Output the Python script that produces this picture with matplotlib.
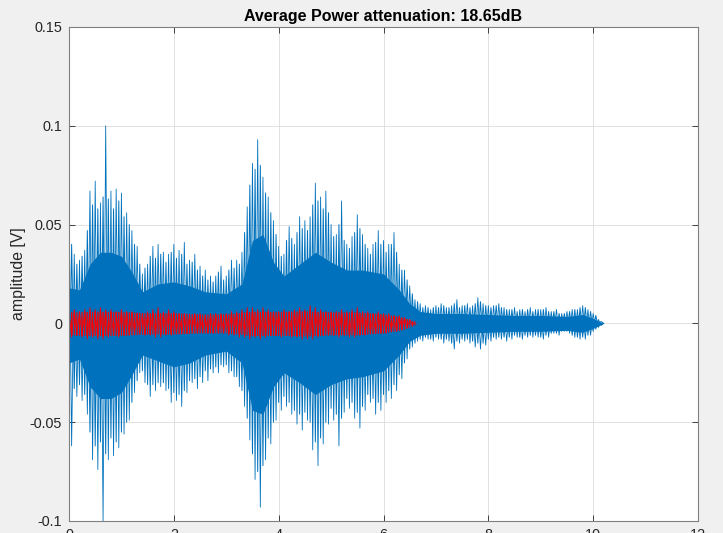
import matplotlib.pyplot as plt
import numpy as np

plt.rcParams.update({
    "font.family": ["Liberation Sans", "DejaVu Sans"],
    "axes.unicode_minus": False,
})

# Full signal, peak values (V).
# tallest upper spikes at t = 0.0, 0.1, ..., 10.2 s
blue_up = [0.062, 0.035, 0.032, 0.037, 0.067, 0.072, 0.061, 0.100, 0.067, 0.068,
           0.066, 0.056, 0.047, 0.039, 0.025, 0.030, 0.039, 0.040, 0.036, 0.035,
           0.040, 0.037, 0.041, 0.032, 0.035, 0.029, 0.027, 0.024, 0.024, 0.029,
           0.024, 0.032, 0.032, 0.036, 0.059, 0.081, 0.093, 0.074, 0.064, 0.052,
           0.039, 0.035, 0.049, 0.040, 0.054, 0.052, 0.054, 0.071, 0.064, 0.067,
           0.050, 0.045, 0.062, 0.040, 0.044, 0.055, 0.045, 0.038, 0.040, 0.047,
           0.042, 0.040, 0.046, 0.030, 0.027, 0.019, 0.012, 0.010, 0.009, 0.007,
           0.009, 0.010, 0.008, 0.009, 0.012, 0.009, 0.010, 0.009, 0.013, 0.010,
           0.009, 0.009, 0.010, 0.008, 0.007, 0.008, 0.007, 0.006, 0.008, 0.007,
           0.007, 0.008, 0.006, 0.007, 0.005, 0.006, 0.007, 0.007, 0.009, 0.007,
           0.005, 0.002, 0.000]
# tallest lower spikes at t = 0.05, 0.15, ..., 10.15 s
blue_lo = [-0.062, -0.037, -0.039, -0.046, -0.069, -0.074, -0.100, -0.069, -0.067, -0.063,
           -0.056, -0.049, -0.035, -0.025, -0.030, -0.037, -0.034, -0.032, -0.034, -0.040,
           -0.039, -0.042, -0.035, -0.030, -0.033, -0.030, -0.029, -0.025, -0.025, -0.022,
           -0.025, -0.027, -0.032, -0.042, -0.059, -0.079, -0.093, -0.069, -0.061, -0.049,
           -0.044, -0.042, -0.046, -0.051, -0.054, -0.049, -0.064, -0.072, -0.061, -0.051,
           -0.049, -0.062, -0.045, -0.043, -0.048, -0.053, -0.044, -0.040, -0.046, -0.044,
           -0.040, -0.038, -0.034, -0.028, -0.018, -0.012, -0.009, -0.009, -0.008, -0.009,
           -0.008, -0.010, -0.009, -0.013, -0.010, -0.009, -0.010, -0.012, -0.013, -0.011,
           -0.009, -0.008, -0.008, -0.009, -0.008, -0.007, -0.008, -0.007, -0.007, -0.007,
           -0.008, -0.007, -0.005, -0.006, -0.004, -0.005, -0.007, -0.008, -0.008, -0.006,
           -0.003, -0.001]
# secondary upper spikes at t = 0.05, 0.15, ..., 10.15 s
blue_up2 = [0.040, 0.030, 0.034, 0.047, 0.060, 0.058, 0.064, 0.063, 0.058, 0.062,
            0.054, 0.050, 0.040, 0.030, 0.028, 0.034, 0.033, 0.035, 0.031, 0.036,
            0.033, 0.035, 0.030, 0.031, 0.027, 0.024, 0.022, 0.021, 0.026, 0.022,
            0.027, 0.028, 0.030, 0.046, 0.070, 0.078, 0.080, 0.066, 0.056, 0.045,
            0.034, 0.042, 0.043, 0.046, 0.048, 0.047, 0.060, 0.062, 0.058, 0.056,
            0.044, 0.050, 0.042, 0.038, 0.046, 0.048, 0.040, 0.035, 0.041, 0.040,
            0.036, 0.040, 0.036, 0.027, 0.022, 0.015, 0.011, 0.008, 0.008, 0.008,
            0.008, 0.009, 0.008, 0.010, 0.008, 0.009, 0.008, 0.010, 0.011, 0.009,
            0.008, 0.009, 0.008, 0.007, 0.007, 0.006, 0.007, 0.007, 0.006, 0.007,
            0.007, 0.006, 0.006, 0.005, 0.005, 0.006, 0.007, 0.008, 0.008, 0.006,
            0.004, 0.001]
# secondary lower spikes at t = 0.0, 0.1, ..., 10.2 s
blue_lo2 = [-0.045, -0.033, -0.031, -0.036, -0.055, -0.062, -0.060, -0.066, -0.058, -0.060,
            -0.055, -0.050, -0.040, -0.029, -0.024, -0.031, -0.031, -0.030, -0.030, -0.033,
            -0.035, -0.036, -0.034, -0.029, -0.028, -0.027, -0.024, -0.023, -0.022, -0.021,
            -0.021, -0.024, -0.027, -0.034, -0.048, -0.066, -0.075, -0.072, -0.058, -0.050,
            -0.040, -0.037, -0.040, -0.044, -0.046, -0.045, -0.050, -0.060, -0.058, -0.050,
            -0.043, -0.046, -0.048, -0.038, -0.040, -0.045, -0.042, -0.036, -0.038, -0.040,
            -0.036, -0.034, -0.031, -0.026, -0.020, -0.013, -0.010, -0.008, -0.007, -0.008,
            -0.007, -0.008, -0.008, -0.010, -0.009, -0.008, -0.008, -0.009, -0.010, -0.010,
            -0.008, -0.007, -0.007, -0.007, -0.007, -0.006, -0.007, -0.006, -0.006, -0.006,
            -0.007, -0.006, -0.005, -0.005, -0.004, -0.004, -0.006, -0.007, -0.007, -0.006,
            -0.004, -0.002, 0.000]
# solid (saturated) core of the full signal
core_t = [0, 0.2, 0.4, 0.6, 0.8, 1.0, 1.2, 1.4, 1.7, 2.0, 2.3, 2.6, 3.0, 3.3, 3.5, 3.7,
          3.9, 4.1, 4.4, 4.7, 5.0, 5.3, 5.6, 6.0, 6.3, 6.5, 6.7, 7.0, 7.5, 8.0, 8.5,
          9.0, 9.5, 9.8, 10.0, 10.2]
core_up = [0.018, 0.017, 0.030, 0.036, 0.036, 0.034, 0.026, 0.016, 0.020, 0.021, 0.019, 0.016,
           0.015, 0.020, 0.042, 0.045, 0.031, 0.024, 0.030, 0.036, 0.031, 0.027, 0.027, 0.025,
           0.017, 0.010, 0.006, 0.005, 0.005, 0.0045, 0.004, 0.004, 0.0035, 0.0045, 0.0025, 0.0]
core_lo = [-0.020, -0.018, -0.032, -0.038, -0.038, -0.035, -0.026, -0.016, -0.019, -0.022,
           -0.020, -0.016, -0.014, -0.020, -0.044, -0.046, -0.032, -0.025, -0.030, -0.036,
           -0.031, -0.028, -0.027, -0.024, -0.016, -0.009, -0.006, -0.005, -0.005, -0.0045,
           -0.004, -0.004, -0.0035, -0.0045, -0.0025, 0.0]

# Attenuated signal: upper peaks at t = 0.0 ... 6.6 s, lower at 0.05 ... 6.55 s
red_up = [0.006, 0.007, 0.006, 0.007, 0.008, 0.007, 0.008, 0.007, 0.007, 0.006,
          0.007, 0.006, 0.006, 0.005, 0.005, 0.006, 0.007, 0.008, 0.006, 0.007,
          0.006, 0.005, 0.005, 0.004, 0.005, 0.005, 0.004, 0.005, 0.005, 0.005,
          0.005, 0.006, 0.006, 0.007, 0.008, 0.008, 0.007, 0.008, 0.007, 0.006,
          0.006, 0.007, 0.006, 0.007, 0.008, 0.007, 0.009, 0.008, 0.007, 0.006,
          0.006, 0.006, 0.007, 0.006, 0.007, 0.008, 0.006, 0.006, 0.005, 0.006,
          0.005, 0.005, 0.004, 0.004, 0.003, 0.002, 0.001]
red_lo = [-0.007, -0.006, -0.007, -0.008, -0.007, -0.008, -0.008, -0.007, -0.006, -0.007,
          -0.006, -0.006, -0.005, -0.005, -0.006, -0.006, -0.007, -0.007, -0.006, -0.006,
          -0.005, -0.005, -0.005, -0.004, -0.005, -0.004, -0.005, -0.005, -0.005, -0.005,
          -0.006, -0.006, -0.007, -0.007, -0.008, -0.007, -0.008, -0.007, -0.006, -0.006,
          -0.007, -0.006, -0.007, -0.007, -0.008, -0.008, -0.008, -0.007, -0.006, -0.006,
          -0.006, -0.007, -0.006, -0.007, -0.007, -0.006, -0.006, -0.005, -0.005, -0.005,
          -0.005, -0.004, -0.004, -0.003, -0.002, -0.001]
red_core_t = [0, 0.5, 1.0, 1.5, 2.0, 2.5, 3.0, 3.5, 4.0, 4.5, 5.0, 5.5, 6.0, 6.3, 6.5, 6.65]
red_core = [0.0058, 0.0062, 0.0060, 0.0054, 0.0054, 0.0048, 0.0048, 0.0062, 0.0060,
            0.0064, 0.0058, 0.0058, 0.0048, 0.0036, 0.0020, 0.0]

x_ticks = [0, 2, 4, 6, 8, 10, 12]
y_ticks = [-0.1, -0.05, 0, 0.05, 0.1, 0.15]
title = "Average Power attenuation: 18.65dB"


def zigzag(up, lo, up_first=True):
    # upper and lower peaks alternate, 0.05 s apart
    t_up = 0.1 * np.arange(len(up)) + (0.0 if up_first else 0.05)
    t_lo = 0.1 * np.arange(len(lo)) + (0.05 if up_first else 0.0)
    t = np.concatenate([t_up, t_lo])
    v = np.concatenate([up, lo])
    order = np.argsort(t, kind="stable")
    return t[order], v[order]


BLUE = "#0072BD"
RED = "#FF0000"

fig = plt.figure(figsize=(7.23, 5.33), dpi=100, facecolor="#f0f0f0")
ax = fig.add_axes([69 / 723, 12 / 533, 629 / 723, 494 / 533])

ax.fill_between(core_t, core_lo, core_up, color=BLUE, lw=0)
t2, v2 = zigzag(blue_up2, blue_lo2, up_first=False)
ax.plot(t2, v2, color=BLUE, lw=0.7)
t1, v1 = zigzag(blue_up, blue_lo)
ax.plot(t1, v1, color=BLUE, lw=0.6)

rc = np.array(red_core)
ax.fill_between(red_core_t, -rc, rc, color=RED, lw=0)
tr, vr = zigzag(red_up, red_lo)
ax.plot(tr, vr, color=RED, lw=0.6)

ax.set_xlim(0, 12)
ax.set_ylim(-0.1, 0.15)
ax.set_xticks(x_ticks, [f"{v:g}" for v in x_ticks])
ax.set_yticks(y_ticks, [f"{v:g}" for v in y_ticks])
ax.tick_params(direction="in", top=True, right=True, length=4, width=0.6,
               color="#262626", labelcolor="#262626", labelsize=10.4, pad=5)
ax.grid(True, color="#dcdcdc", lw=0.6)
ax.set_axisbelow(True)
for s in ax.spines.values():
    s.set_color("#808080")
    s.set_linewidth(0.8)

ax.set_ylabel("amplitude [V]", fontsize=11.4, color="#262626", labelpad=3)
ax.set_title(title, fontsize=11.5, fontweight="bold", color="#000000", pad=4)

fig.savefig("out.png", dpi=100, facecolor=fig.get_facecolor())
